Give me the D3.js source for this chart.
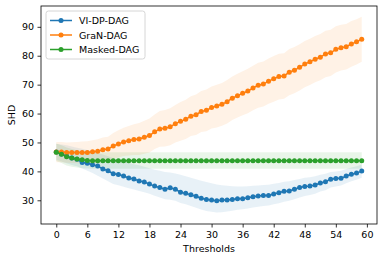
<!DOCTYPE html>
<html>
<head>
<meta charset="utf-8">
<script src="https://cdn.jsdelivr.net/npm/d3@7"></script>
<style>
  body { margin: 0; background: #fff; }
  svg text { font-family: "DejaVu Sans", sans-serif; fill: #000; }
</style>
</head>
<body>
<div id="chart"></div>
<script>
// thresholds 0..59
var thresholds = d3.range(60);

var viMean = [46.7,46.0,45.3,44.6,44.2,43.1,42.8,42.3,41.9,40.8,40.2,39.2,38.9,38.4,37.7,37.4,36.7,36.3,35.6,34.9,
  34.4,33.8,34.3,33.8,32.8,32.4,31.9,31.4,30.7,30.3,30.1,29.8,30.1,30.1,30.3,30.5,30.5,30.9,31.2,31.5,
  31.7,31.7,32.2,32.6,33.1,33.2,33.8,34.4,34.8,34.9,35.3,36.0,36.4,37.3,37.5,37.6,38.4,39.0,39.4,40.1];
var viHi = [49.5,49.3,49.0,48.6,48.2,47.8,47.4,46.9,46.4,45.8,45.2,44.5,44.0,43.5,43.0,42.5,42.1,41.6,41.1,40.6,
  40.2,39.8,39.6,39.3,38.8,38.3,37.8,37.3,36.8,36.3,35.9,35.5,35.2,35.0,34.9,34.8,34.8,34.9,35.0,35.1,
  35.3,35.4,35.7,36.0,36.4,36.6,37.0,37.4,37.8,38.0,38.3,38.8,39.2,39.8,40.0,40.2,40.8,41.3,41.8,42.4];
var viLo = [44.0,43.4,42.8,42.2,41.8,41.0,40.2,39.4,38.5,37.5,36.6,35.6,35.2,34.7,34.2,33.7,33.2,32.8,32.3,31.6,
  31.0,30.4,30.2,29.8,29.1,28.6,28.0,27.4,26.8,26.3,26.0,25.8,25.9,26.1,26.4,26.7,26.9,27.2,27.5,27.8,
  28.0,28.2,28.6,29.0,29.5,29.8,30.4,31.0,31.5,31.8,32.3,33.0,33.5,34.4,34.8,35.1,35.9,36.6,37.1,37.8];

var granMean = [46.7,46.7,46.5,46.5,46.5,46.5,46.5,46.8,47.0,47.5,47.7,48.8,49.5,50.2,50.6,51.0,51.2,51.8,52.4,53.7,
  54.7,54.9,55.4,56.5,57.3,58.0,59.1,59.6,60.7,61.1,62.1,62.6,63.2,64.1,65.3,66.2,67.0,67.8,68.8,69.8,
  70.2,71.2,72.0,72.8,73.0,74.3,75.0,76.0,77.1,77.9,78.8,79.5,80.6,81.0,82.2,82.8,83.1,84.1,84.8,85.7];
var granHi = [50.2,50.2,50.0,50.1,50.2,50.3,50.4,50.8,51.1,51.7,52.0,53.3,54.2,55.1,55.7,56.3,56.7,57.5,58.3,59.7,
  60.9,61.2,61.8,63.0,64.0,64.8,66.0,66.6,67.8,68.3,69.4,70.0,70.6,71.6,72.8,73.8,74.6,75.5,76.5,77.6,
  78.0,79.0,79.9,80.7,80.9,82.3,83.0,84.0,85.1,85.9,86.8,87.5,88.6,89.0,90.2,90.7,91.0,92.0,92.6,93.5];
var granLo = [43.2,43.2,43.0,42.9,42.8,42.7,42.6,42.8,42.9,43.3,43.4,44.3,44.8,45.3,45.5,45.7,45.7,46.1,46.5,47.7,
  48.5,48.6,49.0,50.0,50.6,51.2,52.2,52.6,53.6,53.9,54.8,55.2,55.8,56.6,57.8,58.6,59.4,60.1,61.1,62.0,
  62.4,63.4,64.1,64.9,65.1,66.3,67.0,68.0,69.1,69.9,70.8,71.5,72.6,73.0,74.2,74.9,75.2,76.2,77.0,77.9];

var maskMean = [46.6,45.9,45.1,44.6,44.3,44.0,43.8,43.7,43.7,43.7,43.7,43.7,43.7,43.7,43.7,43.7,43.7,43.7,43.7,43.7,
  43.7,43.7,43.7,43.7,43.7,43.7,43.7,43.7,43.7,43.7,43.7,43.7,43.7,43.7,43.7,43.7,43.7,43.7,43.7,43.7,
  43.7,43.7,43.7,43.7,43.7,43.7,43.7,43.7,43.7,43.7,43.7,43.7,43.7,43.7,43.7,43.7,43.7,43.7,43.7,43.7];
var maskHi = [49.6,49.0,48.3,47.7,47.3,47.0,46.8,46.6,46.6,46.6,46.6,46.6,46.6,46.6,46.6,46.6,46.6,46.6,46.6,46.6,
  46.6,46.6,46.6,46.6,46.6,46.6,46.6,46.6,46.6,46.6,46.6,46.6,46.6,46.6,46.6,46.6,46.6,46.6,46.6,46.6,
  46.6,46.6,46.6,46.6,46.6,46.6,46.6,46.6,46.6,46.6,46.6,46.6,46.6,46.6,46.6,46.6,46.6,46.6,46.6,46.6];
var maskLo = [43.6,42.9,42.0,41.6,41.3,41.1,41.0,40.9,40.9,40.9,40.9,40.9,40.9,40.9,40.9,40.9,40.9,40.9,40.9,40.9,
  40.9,40.9,40.9,40.9,40.9,40.9,40.9,40.9,40.9,40.9,40.9,40.9,40.9,40.9,40.9,40.9,40.9,40.9,40.9,40.9,
  40.9,40.9,40.9,40.9,40.9,40.9,40.9,40.9,40.9,40.9,40.9,40.9,40.9,40.9,40.9,40.9,40.9,40.9,40.9,40.9];

var seriesNames = ["VI-DP-DAG", "GraN-DAG", "Masked-DAG"];
var xTicks = [0, 6, 12, 18, 24, 30, 36, 42, 48, 54, 60];
var yTicks = [30, 40, 50, 60, 70, 80, 90];

var series = [
  {name: seriesNames[0], color: "#1f77b4", mean: viMean, hi: viHi, lo: viLo},
  {name: seriesNames[1], color: "#ff7f0e", mean: granMean, hi: granHi, lo: granLo},
  {name: seriesNames[2], color: "#2ca02c", mean: maskMean, hi: maskHi, lo: maskLo}
];

var width = 382, height = 262;
var margin = {left: 41, right: 5, top: 6, bottom: 38};

var svg = d3.select("#chart").append("svg")
  .attr("width", width).attr("height", height);

var x = d3.scaleLinear().domain([-2.95, 61.95]).range([margin.left, width - margin.right]);
var y = d3.scaleLinear().domain([21.8, 97.2]).range([height - margin.bottom, margin.top]);

// bands first
var area = d3.area()
  .x(function(d, i){ return x(thresholds[i]); })
  .y0(function(d){ return y(d[0]); })
  .y1(function(d){ return y(d[1]); });

series.forEach(function(s){
  svg.append("path")
    .datum(s.lo.map(function(v, i){ return [v, s.hi[i]]; }))
    .attr("d", area)
    .attr("fill", s.color)
    .attr("fill-opacity", 0.1);
});

var line = d3.line()
  .x(function(d, i){ return x(thresholds[i]); })
  .y(function(d){ return y(d); });

series.forEach(function(s){
  var g = svg.append("g");
  g.append("path")
    .datum(s.mean)
    .attr("d", line)
    .attr("fill", "none")
    .attr("stroke", s.color)
    .attr("stroke-width", 1.5);
  g.selectAll("circle").data(s.mean).enter()
    .append("circle")
    .attr("cx", function(d, i){ return x(thresholds[i]); })
    .attr("cy", function(d){ return y(d); })
    .attr("r", 2.5)
    .attr("fill", s.color);
});

// axes
var xAxis = svg.append("g")
  .attr("transform", "translate(0," + (height - margin.bottom) + ")")
  .call(d3.axisBottom(x).tickValues(xTicks).tickSize(3.5).tickPadding(3.5));
var yAxis = svg.append("g")
  .attr("transform", "translate(" + margin.left + ",0)")
  .call(d3.axisLeft(y).tickValues(yTicks).tickSize(3.5).tickPadding(3.5));

[xAxis, yAxis].forEach(function(a){
  a.select(".domain").remove();
  a.selectAll("line").attr("stroke", "#000").attr("stroke-width", 0.8);
  a.selectAll("text").attr("font-size", 9.5).attr("font-family", "DejaVu Sans");
});

// frame
svg.append("rect")
  .attr("x", margin.left).attr("y", margin.top)
  .attr("width", width - margin.left - margin.right)
  .attr("height", height - margin.top - margin.bottom)
  .attr("fill", "none").attr("stroke", "#000").attr("stroke-width", 0.8);

svg.append("text")
  .attr("x", (margin.left + width - margin.right) / 2)
  .attr("y", 252)
  .attr("text-anchor", "middle")
  .attr("font-size", 9.5)
  .text("Thresholds");

svg.append("text")
  .attr("transform", "translate(15," + ((margin.top + height - margin.bottom) / 2) + ") rotate(-90)")
  .attr("text-anchor", "middle")
  .attr("font-size", 9.5)
  .text("SHD");

// legend
var legend = svg.append("g").attr("transform", "translate(46,11)");
legend.append("rect")
  .attr("width", 99).attr("height", 48)
  .attr("rx", 2.5)
  .attr("fill", "#fff").attr("fill-opacity", 0.8)
  .attr("stroke", "#ccc").attr("stroke-width", 0.8);

series.forEach(function(s, i){
  var ly = 9.5 + i * 14.5;
  legend.append("line")
    .attr("x1", 4).attr("x2", 26)
    .attr("y1", ly).attr("y2", ly)
    .attr("stroke", s.color).attr("stroke-width", 1.5);
  legend.append("circle")
    .attr("cx", 15).attr("cy", ly).attr("r", 2.5)
    .attr("fill", s.color);
  legend.append("text")
    .attr("x", 33).attr("y", ly + 3.5)
    .attr("font-size", 9.5)
    .text(s.name);
});
</script>
</body>
</html>
